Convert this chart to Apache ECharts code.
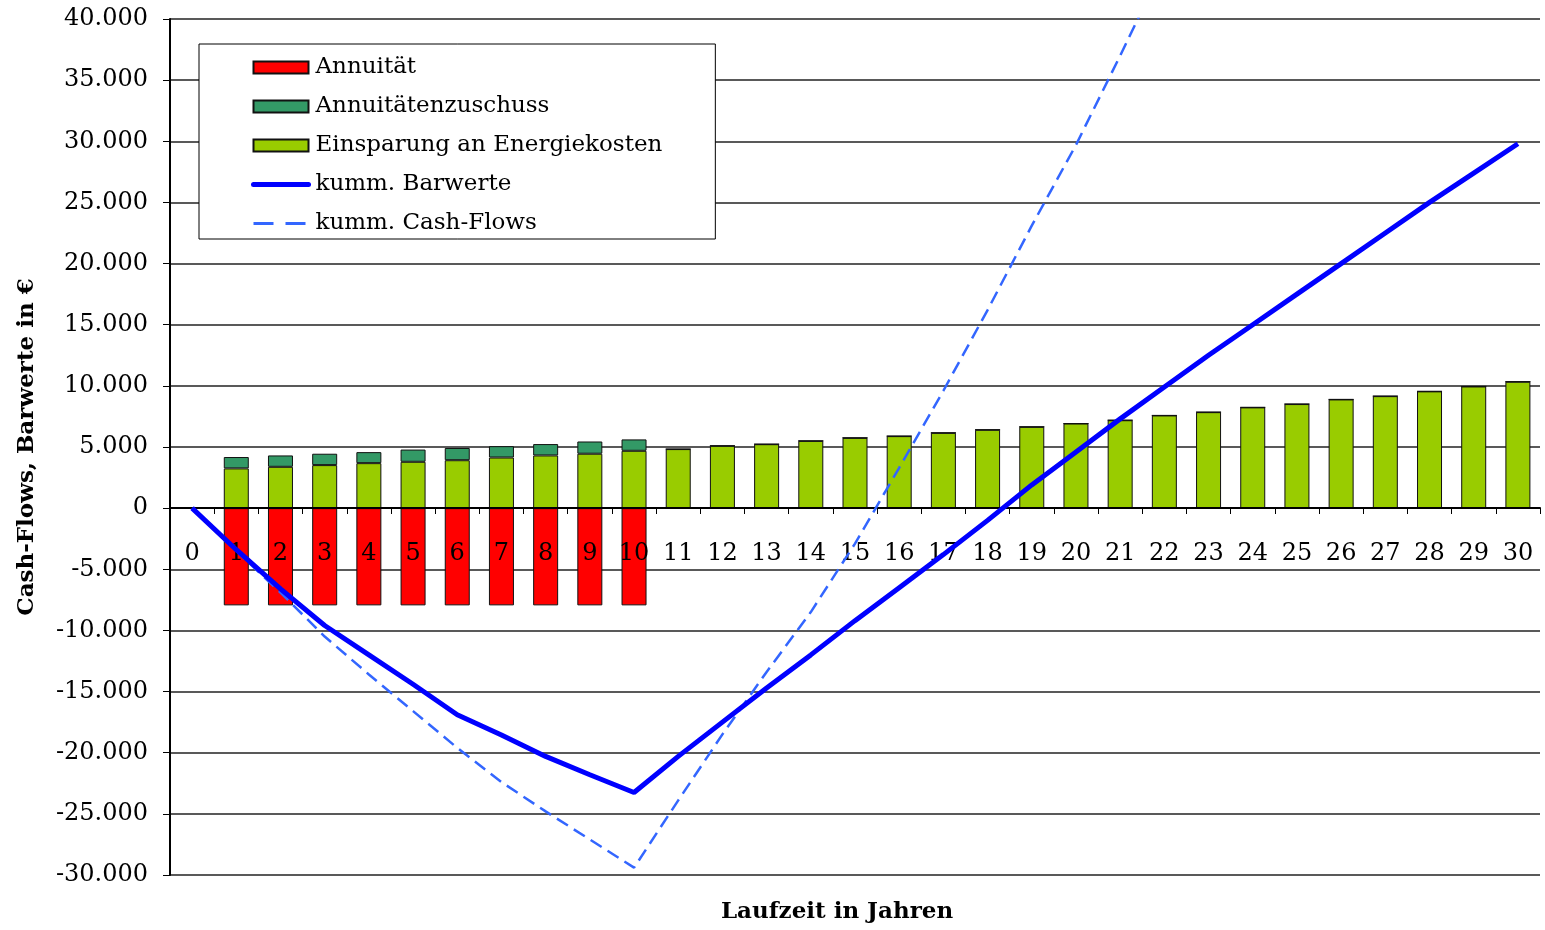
<!DOCTYPE html>
<html>
<head>
<meta charset="utf-8">
<script src="https://cdn.jsdelivr.net/npm/echarts@6/dist/echarts.min.js"></script>
<style>
  html, body { margin: 0; padding: 0; background: #fff; }
  #chart { width: 1545px; height: 930px; }
</style>
</head>
<body>
<div id="chart"></div>
<script>
// Laufzeit in Jahren
const years = ["0", "1", "2", "3", "4", "5", "6", "7", "8", "9", "10",
  "11", "12", "13", "14", "15", "16", "17", "18", "19", "20",
  "21", "22", "23", "24", "25", "26", "27", "28", "29", "30"];

// Balken (EUR)
const annuitaet = [null, -7950, -7950, -7950, -7950, -7950, -7950, -7950, -7950, -7950, -7950,
  0, 0, 0, 0, 0, 0, 0, 0, 0, 0, 0, 0, 0, 0, 0, 0, 0, 0, 0, 0];
const zuschuss = [null, 930, 930, 930, 900, 1000, 1000, 930, 930, 1000, 930,
  0, 0, 0, 0, 0, 0, 0, 0, 0, 0, 0, 0, 0, 0, 0, 0, 0, 0, 0, 0];
const einsparung = [null, 3250, 3380, 3520, 3680, 3790, 3920, 4140, 4310, 4450, 4690,
  4830, 5100, 5230, 5500, 5750, 5890, 6160, 6410, 6650, 6920,
  7190, 7580, 7850, 8240, 8510, 8890, 9160, 9550, 9950, 10340];

// Linien (EUR)
const barwerte = [0, -3400, -6600, -9600, -12000, -14400, -16900, -18550, -20300, -21800, -23250,
  -20300, -17500, -14700, -12000, -9200, -6500, -3800, -1000, 1900, 4600,
  7300, 9900, 12500, 15000, 17500, 20000, 22500, 25000, 27400, 29800];
const cashflows = [0, -3500, -6900, -10500, -13600, -16600, -19600, -22400, -24800, -27100, -29400,
  -23900, -18500, -13400, -8500, -2900, 3300, 9600, 16200, 23100, 29700,
  37000, 44500, null, null, null, null, null, null, null, null];

const yTicks = { min: -30000, max: 40000, step: 5000 };

const serif = "'DejaVu Serif', 'Liberation Serif', serif";

function fmt(v) {
  const s = String(Math.abs(v)).replace(/\B(?=(\d{3})+(?!\d))/g, ".");
  return (v < 0 ? "-" : "") + s;
}

const chart = echarts.init(document.getElementById("chart"));

const barStyle = (color) => ({ color: color, borderColor: "#111", borderWidth: 1 });

// Kategorieachse auf die Nulllinie legen
const gridTop = 19, gridBottom = 55;
const plotH = 930 - gridTop - gridBottom;
const zeroOffset = -Math.round(plotH * (0 - yTicks.min) / (yTicks.max - yTicks.min));

chart.setOption({
  animation: false,
  backgroundColor: "#fff",
  textStyle: { fontFamily: serif },
  title: {
    text: "Laufzeit in Jahren",
    left: 837,
    top: 901,
    textAlign: "center",
    padding: 0,
    textStyle: { fontFamily: serif, fontSize: 23, fontWeight: "bold", color: "#000" }
  },
  legend: {
    orient: "vertical",
    left: 199,
    top: 44,
    padding: [12, 53, 4, 52],
    itemWidth: 55,
    itemHeight: 12,
    itemGap: 16,
    backgroundColor: "#fff",
    borderColor: "#000",
    borderWidth: 1,
    selectedMode: false,
    textStyle: { fontFamily: serif, fontSize: 23, color: "#000", padding: [0, 0, 0, 2] },
    data: [
      { name: "Annuität", icon: "rect" },
      { name: "Annuitätenzuschuss", icon: "rect" },
      { name: "Einsparung an Energiekosten", icon: "rect" },
      { name: "kumm. Barwerte", itemStyle: { opacity: 0 }, lineStyle: { width: 5, cap: "round" } },
      { name: "kumm. Cash-Flows", itemStyle: { opacity: 0 }, lineStyle: { width: 3, type: [20, 12] } }
    ]
  },
  grid: { left: 170, right: 5, top: gridTop, bottom: gridBottom },
  xAxis: {
    type: "category",
    data: years,
    z: 5,
    offset: zeroOffset,
    axisLine: { onZero: false, lineStyle: { color: "#000", width: 2 } },
    axisTick: { show: true, length: 6, lineStyle: { color: "#000", width: 1 } },
    axisLabel: { fontFamily: serif, fontSize: 24, color: "#000", margin: 34 },
    splitLine: { show: false }
  },
  yAxis: {
    type: "value",
    min: yTicks.min,
    max: yTicks.max,
    interval: yTicks.step,
    name: "Cash-Flows, Barwerte in €",
    nameLocation: "middle",
    nameGap: 131,
    nameTextStyle: { fontFamily: serif, fontSize: 23, fontWeight: "bold", color: "#000" },
    axisLine: { show: true, lineStyle: { color: "#000", width: 2 } },
    axisTick: { show: true, length: 7, lineStyle: { color: "#000" } },
    axisLabel: { fontFamily: serif, fontSize: 24, color: "#000", margin: 22, formatter: fmt },
    splitLine: { show: true, lineStyle: { color: "#222", width: 1.5 } }
  },
  series: [
    {
      name: "Annuität",
      type: "bar",
      stack: "cf",
      barWidth: 25,
      itemStyle: barStyle("#FF0000"),
      data: annuitaet
    },
    {
      name: "Einsparung an Energiekosten",
      type: "bar",
      stack: "cf",
      barWidth: 25,
      itemStyle: barStyle("#99CC00"),
      data: einsparung
    },
    {
      name: "Annuitätenzuschuss",
      type: "bar",
      stack: "cf",
      barWidth: 25,
      itemStyle: barStyle("#339966"),
      data: zuschuss
    },
    {
      name: "kumm. Cash-Flows",
      type: "line",
      z: 6,
      symbol: "none",
      clip: true,
      lineStyle: { color: "#3366FF", width: 2.5, type: [13, 7] },
      itemStyle: { color: "#3366FF" },
      data: cashflows
    },
    {
      name: "kumm. Barwerte",
      type: "line",
      z: 7,
      symbol: "none",
      clip: true,
      lineStyle: { color: "#0000FF", width: 5 },
      itemStyle: { color: "#0000FF" },
      data: barwerte
    }
  ]
});
</script>
</body>
</html>
